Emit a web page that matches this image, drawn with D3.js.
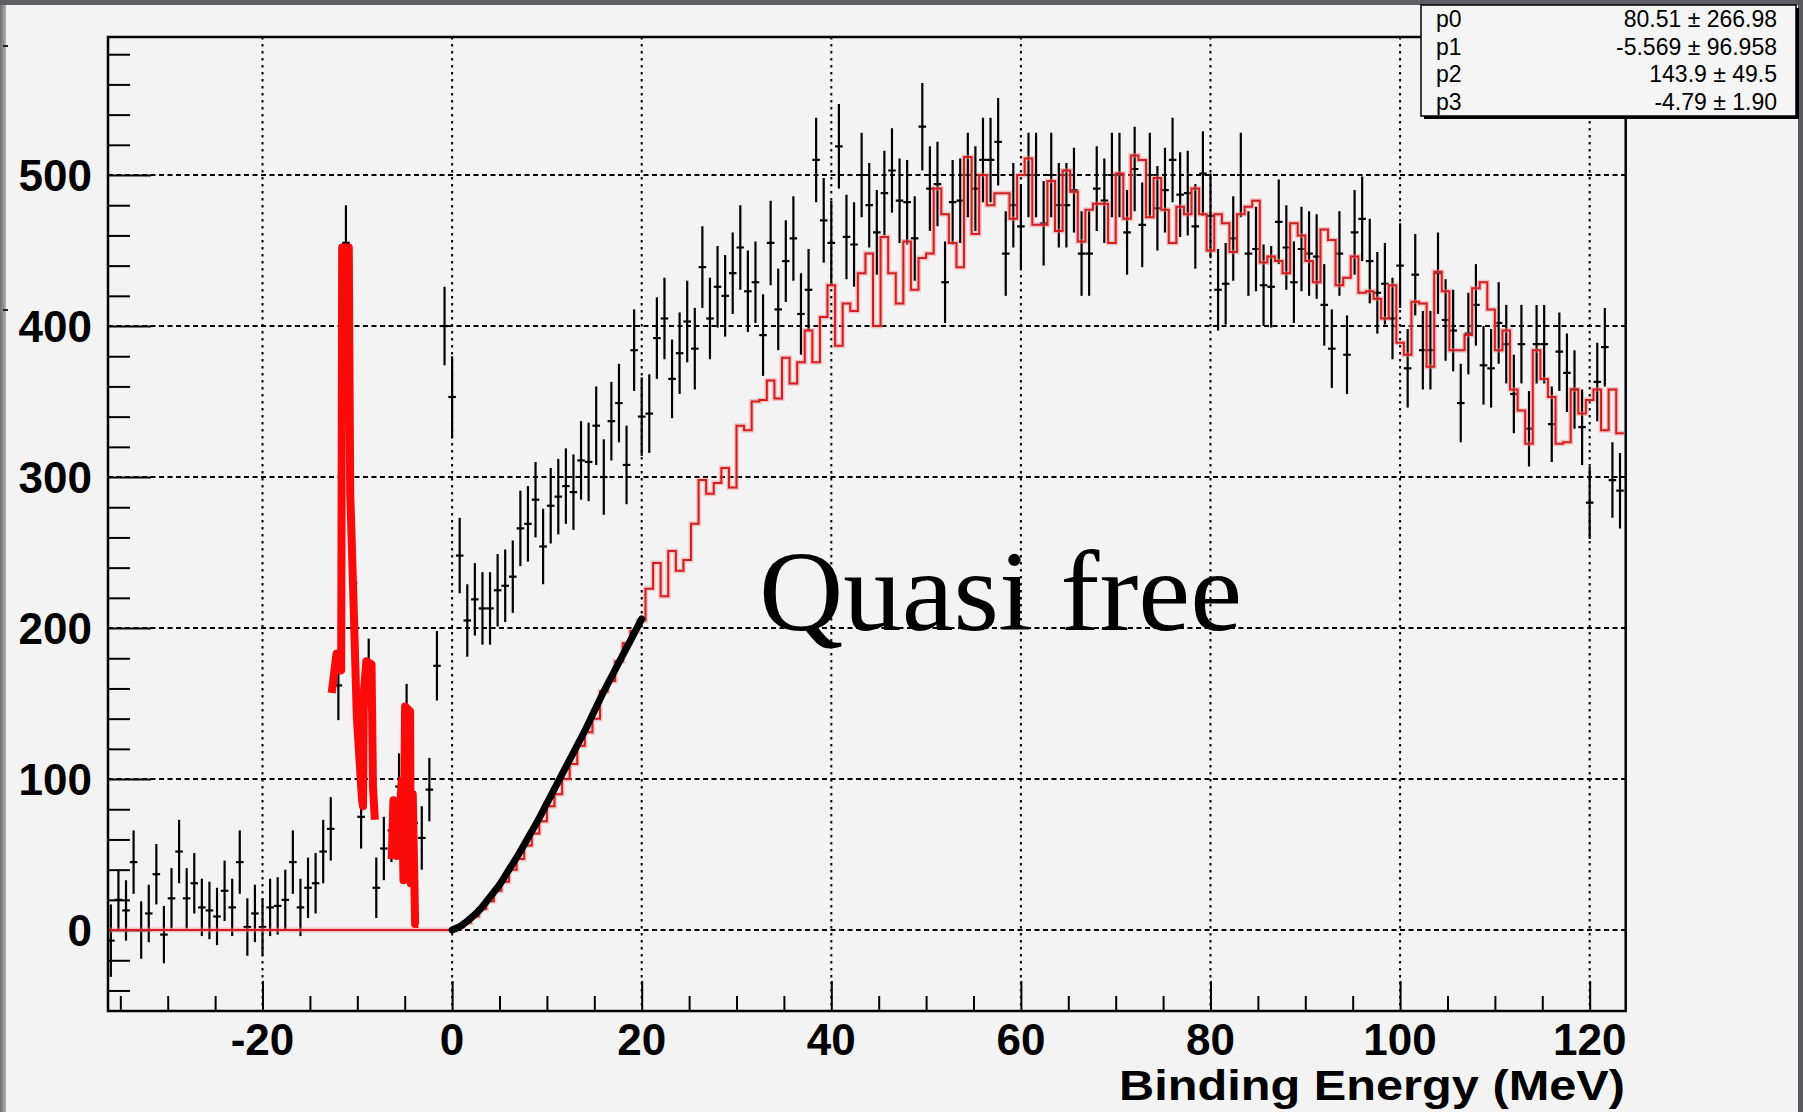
<!DOCTYPE html>
<html><head><meta charset="utf-8">
<script src="https://cdn.jsdelivr.net/npm/d3@7"></script>
<style>
html,body{margin:0;padding:0;background:#f3f3f3;}
svg{display:block;}
</style></head>
<body><svg id="c" width="1803" height="1112"></svg>
<script>
// ---------------- DATA ----------------
const binWidth = 0.8;          // MeV per bin
const firstBin = -45;          // bin index of first data point (center = index*binWidth)
// black data points (counts), bins -45 .. 154
const dataY = [
  -7,20,13,45,0,11,37,-3,21,52, 21,31,15,13,9,26,15,45,2,11,
  2,15,16,20,45,15,28,31,52,67, 162,455,230,75,170,28,54,66,95,140,
  71,61,93,175,400,
  353,248,205,219,213,213,225,228,234,266,
  269,285,254,281,287,294,290,311,310,334,
  300,337,349,308,384,340,342,392,405,365,
  382,403,385,439,405,426,420,435,452,423,
  429,394,455,411,443,458,408,424,510,470,
  455,519,459,454,500,480,462,488,503,483,
  482,458,532,491,494,429,482,483,500,491,
  510,510,522,448,480,466,500,500,468,500,
  480,480,490,448,448,491,483,500,500,462,
  504,467,500,478,490,510,487,488,466,501,
  473,424,428,458,500,448,451,427,426,469,
  452,429,451,448,446,414,385,448,381,462,
  471,443,422,428,405,440,372,434,384,384,
  435,404,397,349,395,414,374,372,402,388,
  355,388,332,388,388,335,383,369,358,333,
  283,363,386,298,291
];
const dataErr = [
  24,20,20,21,19,19,20,19,20,21, 20,20,19,19,19,20,19,21,19,19,
  19,19,19,20,21,19,20,20,21,21, 23,25,24,21,23,20,21,21,22,23,
  21,21,21,23,26,
  27,25,24,24,24,24,24,24,24,25,
  25,25,25,25,25,25,25,26,26,26,
  25,26,26,26,27,26,26,27,27,26,
  27,27,27,27,27,27,27,27,28,27,
  27,27,28,27,27,28,27,27,28,28,
  28,28,28,28,28,28,28,28,28,28,
  28,28,29,28,28,27,28,28,28,28,
  28,28,29,28,28,28,28,28,28,28,
  28,28,28,28,28,28,28,28,28,28,
  28,28,28,28,28,28,28,28,28,28,
  28,27,27,28,28,28,28,27,27,28,
  28,27,28,28,28,27,26,28,26,28,
  28,28,27,27,27,28,26,27,26,26,
  27,27,27,26,27,27,26,26,27,26,
  26,26,25,26,26,25,26,26,26,25,
  24,26,26,25,25
];
// red histogram, bins -45 .. 154
const redY = [
  0,0,0,0,0,0,0,0,0,0, 0,0,0,0,0,0,0,0,0,0,
  0,0,0,0,0,0,0,0,0,0, 0,0,0,0,0,0,0,0,0,0,
  0,0,0,0,0,
  0,2,5,9,14,19,26,32,40,47,
  56,64,72,82,90,100,110,122,131,140,
  158,165,178,190,198,205,226,243,221,251,
  238,245,269,298,289,296,306,293,334,331,
  350,351,364,352,379,362,376,397,376,406,
  427,387,415,410,435,448,400,459,435,415,
  456,424,445,448,491,474,455,439,512,461,
  500,480,488,488,471,500,511,467,467,496,
  463,503,489,456,477,481,481,455,501,471,
  513,510,472,498,477,455,479,474,491,474,
  450,474,468,449,474,479,483,442,446,443,
  435,468,460,443,429,464,457,427,432,446,
  422,423,418,405,427,389,381,416,415,373,
  436,423,384,384,394,425,429,411,384,397,
  358,344,322,384,365,353,322,323,358,342,
  351,358,331,358,329
];
// thick red peak curves (two pieces)
const peakAX = [-12.7,-12.2,-11.7,-11.6,-10.9,-10.75,-10.45,-10.05,-9.5,-9.4,-9.3,-9.05,-8.5,-8.35,-8.15];
const peakAY = [157,183,172,452,452,290,228,141,86,82,158,178,176,95,73];
const peakBX = [-6.37,-6.19,-5.84,-5.31,-5.13,-4.96,-4.43,-4.36,-4.15,-3.9,-3.55];
const peakBY = [47,86,49,99,33,148,145,31,90,4,4];
// black fit curve
const fitX = [0,1,2,3,4,5,6,7,8,9,10,11,12,13,14,15,16,17,18,19,20];
const fitY = [0,3,8,14,22,30,40,50,61,72,84,96,108,120,132,145,158,170,182,194,206];
// axes
const xMajor = [-20,0,20,40,60,80,100,120];
const xMinor = [-35,-30,-25,-15,-10,-5,5,10,15,25,30,35,45,50,55,65,70,75,85,90,95,105,110,115];
const yMajor = [0,100,200,300,400,500];
const yMinor = [-40,-20,20,40,60,80,120,140,160,180,220,240,260,280,320,340,360,380,420,440,460,480,520,540,560,580];
const xTitle = "Binding Energy (MeV)";
const annotation = "Quasi free";
const statNames = ["p0","p1","p2","p3"];
const statValues = ["80.51 \u00b1 266.98","-5.569 \u00b1 96.958","143.9 \u00b1 49.5","-4.79 \u00b1 1.90"];

// ---------------- LAYOUT ----------------
const W = 1803, H = 1112;
const X0 = 108, X1 = 1625.7, Y0 = 37, Y1 = 1011;
const x = d3.scaleLinear().domain([-36.3, 123.8]).range([X0, X1]);
const y = d3.scaleLinear().domain([-53.6, 591.4]).range([Y1, Y0]);
const SANS = "'Liberation Sans', Arial, Helvetica, sans-serif";

const svg = d3.select('#c');
const defs = svg.append('defs');
svg.append('rect').attr('width', W).attr('height', H).attr('fill', '#f3f3f3');

// window-like borders
const lg = defs.append('linearGradient').attr('id', 'lg').attr('x1', 0).attr('x2', 1);
lg.append('stop').attr('offset', 0).attr('stop-color', '#6c6c72');
lg.append('stop').attr('offset', 1).attr('stop-color', '#b2b2b6');
svg.append('rect').attr('x', 0).attr('y', 0).attr('width', 6).attr('height', H).attr('fill', 'url(#lg)');
svg.append('rect').attr('x', 0).attr('y', 0).attr('width', W).attr('height', 5).attr('fill', '#5e5e64');
svg.append('rect').attr('x', 1798).attr('y', 0).attr('width', 5).attr('height', H).attr('fill', '#58585e');
svg.append('rect').attr('x', 3).attr('y', 45).attr('width', 5).attr('height', 2).attr('fill', '#222');
svg.append('rect').attr('x', 3).attr('y', 309).attr('width', 5).attr('height', 2).attr('fill', '#222');

defs.append('clipPath').attr('id', 'clip').append('rect')
  .attr('x', X0).attr('y', Y0).attr('width', X1 - X0).attr('height', Y1 - Y0);

// grid
const grid = svg.append('g');
grid.selectAll('line.v').data(xMajor).join('line').attr('class', 'v')
  .attr('x1', d => x(d)).attr('x2', d => x(d)).attr('y1', Y0).attr('y2', Y1)
  .attr('stroke', '#000').attr('stroke-width', 2).attr('stroke-dasharray', '2.5,4.5');
grid.selectAll('line.h').data(yMajor).join('line').attr('class', 'h')
  .attr('x1', X0).attr('x2', X1).attr('y1', d => y(d)).attr('y2', d => y(d))
  .attr('stroke', '#000').attr('stroke-width', 2).attr('stroke-dasharray', '5,3.5');

// axes ticks (inward)
function styleAxis(g) {
  g.select('.domain').remove();
  g.selectAll('line').attr('stroke', '#000').attr('stroke-width', 2);
  g.selectAll('text').remove();
}
svg.append('g').attr('transform', `translate(${X0},0)`)
  .call(d3.axisLeft(y).tickValues(yMinor).tickSize(-22)).call(styleAxis);
svg.append('g').attr('transform', `translate(${X0},0)`)
  .call(d3.axisLeft(y).tickValues(yMajor).tickSize(-43)).call(styleAxis);
svg.append('g').attr('transform', `translate(0,${Y1})`)
  .call(d3.axisBottom(x).tickValues(xMinor).tickSize(-15)).call(styleAxis);
svg.append('g').attr('transform', `translate(0,${Y1})`)
  .call(d3.axisBottom(x).tickValues(xMajor).tickSize(-30)).call(styleAxis);

const plot = svg.append('g').attr('clip-path', 'url(#clip)');

// black data points with error bars
const pts = dataY.map((v, i) => ({c: (firstBin + i) * binWidth, v, e: dataErr[i]}));
const pg = plot.append('g').attr('stroke', '#000').attr('stroke-width', 2.2);
pg.selectAll('line.ev').data(pts).join('line').attr('class', 'ev')
  .attr('x1', d => x(d.c)).attr('x2', d => x(d.c))
  .attr('y1', d => y(d.v - d.e)).attr('y2', d => y(d.v + d.e));
pg.selectAll('line.eh').data(pts).join('line').attr('class', 'eh')
  .attr('x1', d => x(d.c - binWidth / 2)).attr('x2', d => x(d.c + binWidth / 2))
  .attr('y1', d => y(d.v)).attr('y2', d => y(d.v));

// red histogram (step)
const steps = [];
redY.forEach((v, i) => {
  const c = (firstBin + i) * binWidth;
  steps.push([c - binWidth / 2, v], [c + binWidth / 2, v]);
});
const lineXY = d3.line().x(d => x(d[0])).y(d => y(d[1]));
plot.append('path').attr('d', lineXY(steps)).attr('fill', 'none')
  .attr('stroke', 'rgba(235,140,140,0.45)').attr('stroke-width', 5);
plot.append('path').attr('d', lineXY(steps)).attr('fill', 'none')
  .attr('stroke', '#d61c1c').attr('stroke-width', 2);

// thick red peaks
[[peakAX, peakAY], [peakBX, peakBY]].forEach(([px, py]) => {
  plot.append('path').attr('d', lineXY(px.map((d, i) => [d, py[i]])))
    .attr('fill', 'none').attr('stroke', '#fb0a0a').attr('stroke-width', 8)
    .attr('stroke-linejoin', 'round').attr('stroke-linecap', 'butt');
});

// black fit curve
plot.append('path').attr('d', d3.line().curve(d3.curveMonotoneX).x(d => x(d[0])).y(d => y(d[1]))(fitX.map((d, i) => [d, fitY[i]])))
  .attr('fill', 'none').attr('stroke', '#000').attr('stroke-width', 7).attr('stroke-linecap', 'round');

// frame
svg.append('rect').attr('x', X0).attr('y', Y0).attr('width', X1 - X0).attr('height', Y1 - Y0)
  .attr('fill', 'none').attr('stroke', '#000').attr('stroke-width', 2.5);

// tick labels
svg.append('g').selectAll('text').data(yMajor).join('text')
  .attr('x', 92).attr('y', d => y(d)).attr('dy', '0.36em')
  .attr('text-anchor', 'end').attr('font-family', SANS).attr('font-weight', 'bold')
  .attr('font-size', 44).attr('fill', '#000').text(d => d);
svg.append('g').selectAll('text').data(xMajor).join('text')
  .attr('x', d => x(d)).attr('y', 1055)
  .attr('text-anchor', 'middle').attr('font-family', SANS).attr('font-weight', 'bold')
  .attr('font-size', 44).attr('fill', '#000').text(d => d);
svg.append('text').attr('x', 1625).attr('y', 1100).attr('text-anchor', 'end')
  .attr('font-family', SANS).attr('font-weight', 'bold').attr('font-size', 43)
  .attr('textLength', 506).attr('lengthAdjust', 'spacingAndGlyphs').text(xTitle);

// annotation
svg.append('text').attr('x', 759).attr('y', 630)
  .attr('font-family', "'Liberation Serif', 'DejaVu Serif', serif").attr('font-size', 115)
  .attr('textLength', 483).attr('lengthAdjust', 'spacingAndGlyphs').attr('fill', '#000').text(annotation);

// stats box
const bx = 1421, by = 5, bw = 375, bh = 111;
svg.append('rect').attr('x', bx + 3).attr('y', by + 3).attr('width', bw).attr('height', bh).attr('fill', '#000');
svg.append('rect').attr('x', bx).attr('y', by).attr('width', bw).attr('height', bh)
  .attr('fill', '#f5f5f5').attr('stroke', '#000').attr('stroke-width', 1.5);
const sg = svg.append('g').attr('font-family', SANS).attr('font-size', 23).attr('fill', '#000');
sg.selectAll('text.n').data(statNames).join('text').attr('class', 'n')
  .attr('x', 1436).attr('y', (d, i) => 27 + i * 27.5).text(d => d);
sg.selectAll('text.v').data(statValues).join('text').attr('class', 'v')
  .attr('x', 1777).attr('y', (d, i) => 27 + i * 27.5).attr('text-anchor', 'end').text(d => d);
</script>
</body></html>
